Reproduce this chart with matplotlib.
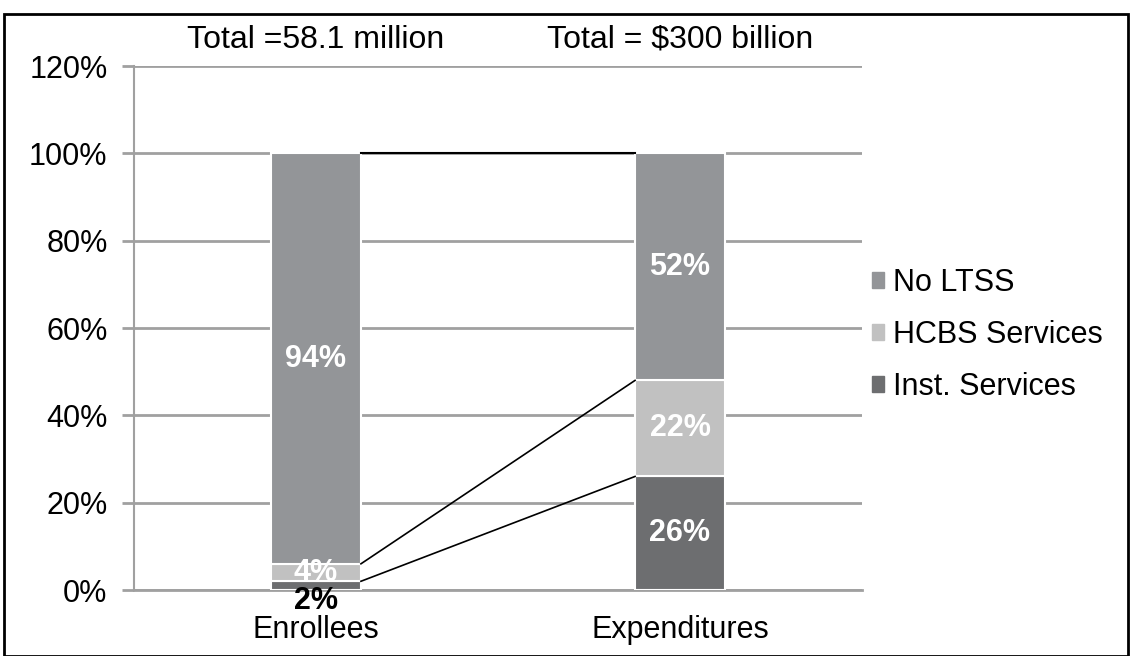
import matplotlib.pyplot as plt
from matplotlib.patches import Rectangle, Patch

plt.rcParams['font.family'] = ['Liberation Sans', 'DejaVu Sans']

categories = ['Enrollees', 'Expenditures']
totals = ['Total =58.1 million', 'Total = $300 billion']
inst = [2, 26]
hcbs = [4, 22]
no_ltss = [94, 52]
series_names = ['No LTSS', 'HCBS Services', 'Inst. Services']
colors = {'No LTSS': '#939598', 'HCBS Services': '#c1c1c1', 'Inst. Services': '#6d6e70'}

fs = 22
fig = plt.figure(figsize=(11.32, 6.56), dpi=100)
ax = fig.add_axes([134 / 1132, 66 / 656, (862 - 134) / 1132, (590 - 66) / 656])

x = [0, 1]
w = 0.247
ax.bar(x, inst, w, color=colors['Inst. Services'], edgecolor='white', linewidth=1.5, zorder=3)
ax.bar(x, hcbs, w, bottom=inst, color=colors['HCBS Services'], edgecolor='white', linewidth=1.5, zorder=3)
bottom2 = [a + b for a, b in zip(inst, hcbs)]
ax.bar(x, no_ltss, w, bottom=bottom2, color=colors['No LTSS'], edgecolor='white', linewidth=1.5, zorder=3)

# connector lines between the bars
x0, x1 = x[0] + w / 2, x[1] - w / 2
ax.plot([x0, x1], [100, 100], color='black', lw=1.5, zorder=4)
ax.plot([x0, x1], [inst[0], inst[1]], color='black', lw=1.2, zorder=4)
ax.plot([x0, x1], [bottom2[0], bottom2[1]], color='black', lw=1.2, zorder=4)

# segment labels
lab = dict(ha='center', va='center', fontsize=fs, fontweight='bold', zorder=5)
ax.text(x[0], bottom2[0] + no_ltss[0] / 2, f'{no_ltss[0]}%', color='white', **lab)
ax.text(x[0], inst[0] + hcbs[0] / 2, f'{hcbs[0]}%', color='white', **lab)
ax.text(x[0], -2.6, f'{inst[0]}%', color='black', clip_on=False, **lab)
ax.text(x[1], inst[1] / 2, f'{inst[1]}%', color='white', **lab)
ax.text(x[1], inst[1] + hcbs[1] / 2, f'{hcbs[1]}%', color='white', **lab)
ax.text(x[1], bottom2[1] + no_ltss[1] / 2, f'{no_ltss[1]}%', color='white', **lab)

ax.set_xlim(-0.5, 1.5)
ax.set_ylim(0, 120)
ax.set_yticks(range(0, 121, 20))
ax.set_yticklabels([f'{v}%' for v in range(0, 121, 20)], fontsize=fs)
ax.set_xticks(x)
ax.set_xticklabels(categories, fontsize=fs)
ax.tick_params(axis='x', length=0, pad=18)
ax.tick_params(axis='y', length=9, color='#a0a0a0', width=2, pad=10)
ax.yaxis.grid(True, color='#a0a0a0', lw=2, zorder=0)
for s in ['top', 'right']:
    ax.spines[s].set_visible(False)
ax.spines['left'].set_color('#a0a0a0')
ax.spines['left'].set_linewidth(1.5)
ax.spines['bottom'].set_color('#a0a0a0')
ax.spines['bottom'].set_linewidth(2)

for i, t in enumerate(totals):
    ax.text(x[i], 126.0, t, ha='center', va='center', fontsize=fs + 1, clip_on=False)

handles = [Patch(color=colors[n]) for n in series_names]
fig.legend(handles, series_names, loc='center left', bbox_to_anchor=(872 / 1132, 1 - 335 / 656),
           frameon=False, fontsize=fs, handlelength=0.4, handleheight=0.4,
           handletextpad=0.3, labelspacing=0.72, borderaxespad=0, borderpad=0)

fig.patches.append(Rectangle((4 / 1132, 0), 1124 / 1132, 1 - 14 / 656, transform=fig.transFigure,
                             fill=False, edgecolor='black', lw=2))

fig.savefig('out.png', dpi=100)
